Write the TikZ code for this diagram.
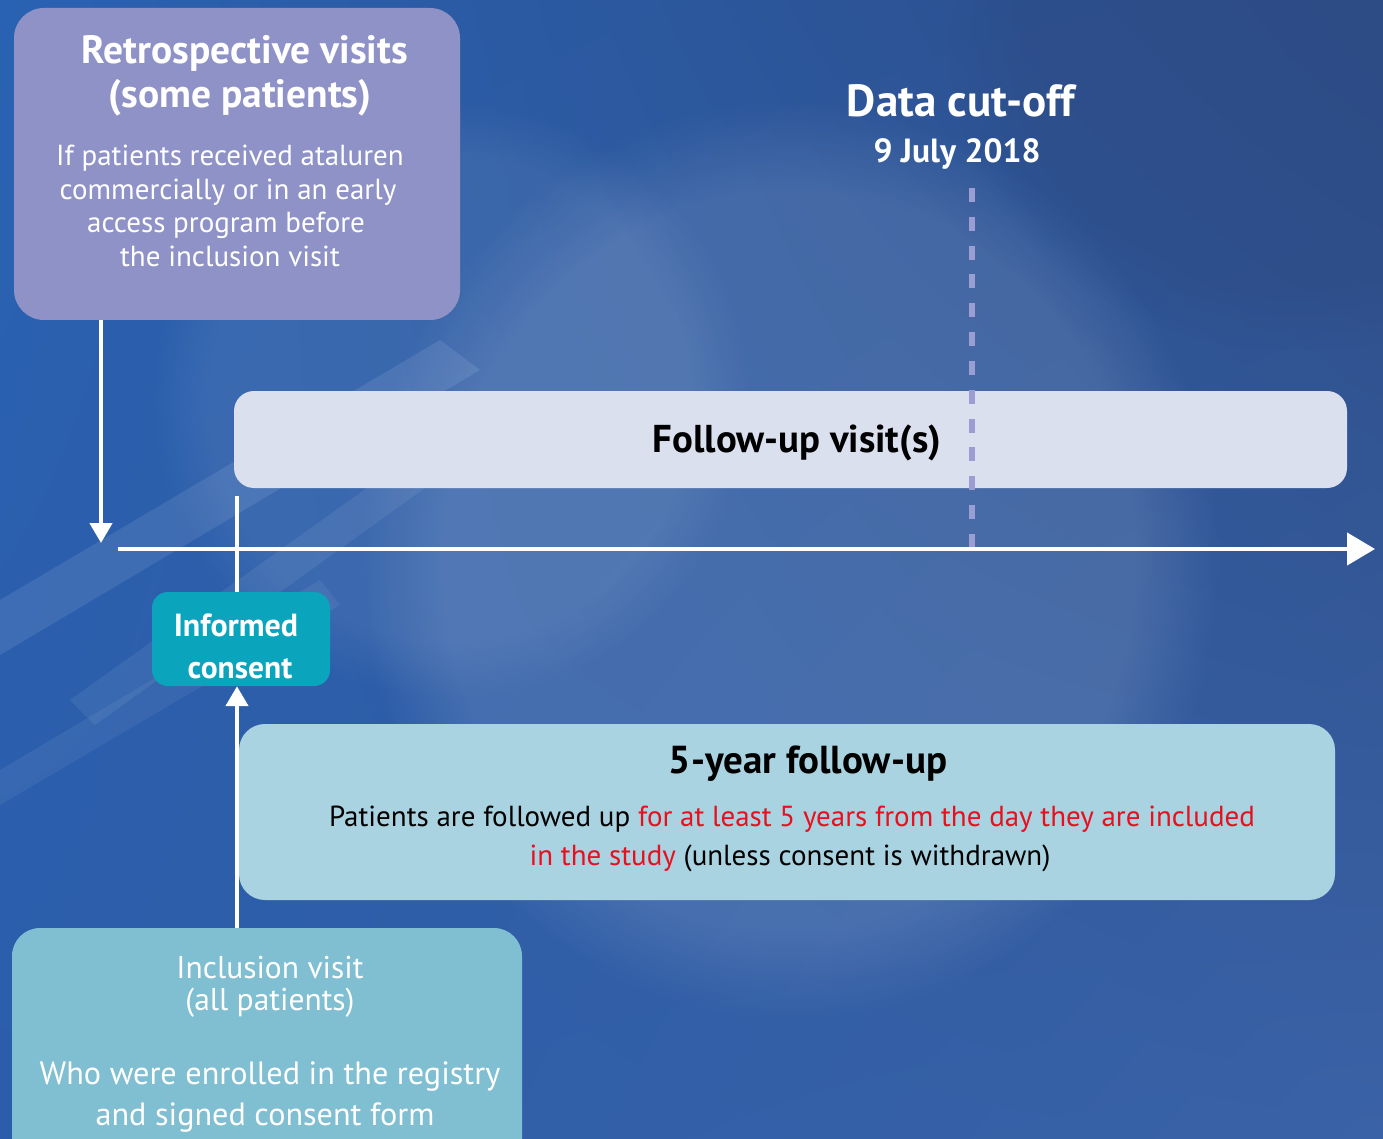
\documentclass[tikz,border=0pt]{standalone}
\usepackage{fontspec}
\setmainfont{PT Sans}
\usetikzlibrary{arrows.meta,fadings,shadings}
\definecolor{bgUL}{HTML}{2A62B3}
\definecolor{bgUR}{HTML}{2D4C86}
\definecolor{bgLL}{HTML}{2B5DAA}
\definecolor{bgLR}{HTML}{3A62A6}
\definecolor{retroC}{HTML}{8F92C6}
\definecolor{fuC}{HTML}{DBE0EE}
\definecolor{icC}{HTML}{0AA5BD}
\definecolor{fyC}{HTML}{A9D3E0}
\definecolor{inclC}{HTML}{80BED1}
\definecolor{cutC}{HTML}{9C9DD2}
\definecolor{redT}{HTML}{E8101E}
\newcommand{\fsz}[1]{\fontsize{#1}{#1}\selectfont}
\begin{document}
\begin{tikzpicture}[x=1pt,y=-1pt,
  boxR/.style={rounded corners=#1,draw=none},
  txt/.style={anchor=base,inner sep=0pt,outer sep=0pt},
  wline/.style={draw=white,line width=4.5pt},
  warrow/.style={draw=white,line width=4.5pt,-{Triangle[width=22pt,length=20pt]}}]
\useasboundingbox (0,0) rectangle (1383,1139);
% background
\shade[upper left=bgUL,upper right=bgUR,lower left=bgLL,lower right=bgLR] (0,0) rectangle (1383,1139);
\fill[white,opacity=0.11,path fading=circle with fuzzy edge 20 percent] (360,100) rectangle (1220,1020);
\fill[white,opacity=0.07,path fading=circle with fuzzy edge 20 percent] (150,100) rectangle (750,700);
\fill[bgUR,opacity=0.5,path fading=circle with fuzzy edge 20 percent] (950,-250) rectangle (1650,350);
\fill[white,opacity=0.09] (0,600) -- (440,340) -- (480,370) -- (0,655) -- cycle;
\fill[white,opacity=0.07] (70,700) -- (420,450) -- (450,470) -- (95,725) -- cycle;
\fill[white,opacity=0.06] (0,770) -- (320,580) -- (340,605) -- (0,805) -- cycle;
% boxes
\fill[retroC,boxR=30pt] (14,8) rectangle (460,320);
\node (retro) at (237,164) [minimum width=446pt,minimum height=312pt] {};
\fill[fuC,boxR=20pt] (234,391) rectangle (1347,488);
\node (fu) at (790,439) [minimum width=1113pt,minimum height=97pt] {};
\fill[icC,boxR=16pt] (152,592) rectangle (330,686);
\node (ic) at (241,639) [minimum width=178pt,minimum height=94pt,inner sep=0pt] {};
\fill[fyC,boxR=26pt] (239,724) rectangle (1335,900);
\node (fy) at (787,812) [minimum width=1096pt,minimum height=176pt] {};
\fill[inclC,boxR=28pt] (12,928) rectangle (522,1170);
\node (incl) at (267,1049) [minimum width=510pt,minimum height=242pt] {};
% texts
\node[txt,white] (rt1) at (245,64) {\fsz{39.5}\bfseries Retrospective visits};
\node[txt,white] (rt2) at (240,108) {\fsz{39.5}\bfseries (some patients)};
\node[txt,white] at (230,166) {\fsz{29}If patients received ataluren};
\node[txt,white] at (228,200) {\fsz{29}commercially or in an early};
\node[txt,white] at (226,233) {\fsz{29}access program before};
\node[txt,white] at (230,267) {\fsz{29}the inclusion visit};
\node[txt,white] (cut1) at (961,117) {\fsz{45}\bfseries Data cut-off};
\node[txt,white] (cut) at (957,163) {\fsz{33.5}\bfseries 9 July 2018};
\node[txt,black] at (797,452) {\fsz{38.8}\bfseries Follow-up visit(s)};
\node[txt,white] at (236,636) {\fsz{32}\bfseries Informed};
\node[txt,white] at (240,678) {\fsz{31.5}\bfseries consent};
\node[txt,black] at (808,773) {\fsz{39}\bfseries 5-year follow-up};
\node[txt,black] at (792,826) {\fsz{29}Patients are followed up \textcolor{redT}{for at least 5 years from the day they are included}};
\node[txt,black] at (790,865) {\fsz{29}\textcolor{redT}{in the study} (unless consent is withdrawn)};
\node[txt,white] at (270,978) {\fsz{31.5}Inclusion visit};
\node[txt,white] at (270,1010) {\fsz{31.5}(all patients)};
\node[txt,white] at (270,1084) {\fsz{32.2}Who were enrolled in the registry};
\node[txt,white] at (265,1125) {\fsz{32.2}and signed consent form};
% connectors
\coordinate (tl0) at (118,549);
\coordinate (tl1) at (1375,549);
\coordinate (cutEnd) at (972,548);
\coordinate (cutTop) at (972,188);
\coordinate (retroArr) at (101,543);
\coordinate (icTop) at (237,496);
\draw[draw=cutC,line width=6pt,dash pattern=on 14pt off 14.83pt] (cutTop) -- (cutEnd);
\draw[draw=white,line width=4.5pt,-{Triangle[width=32pt,length=28pt]}] (tl0) -- (tl1);
\draw[warrow] (retro.south west -| retroArr) -- (retroArr);
\draw[wline] (icTop) -- (ic.north -| icTop);
\draw[warrow] (incl.north -| icTop) -- (ic.south -| icTop);
\end{tikzpicture}
\end{document}
